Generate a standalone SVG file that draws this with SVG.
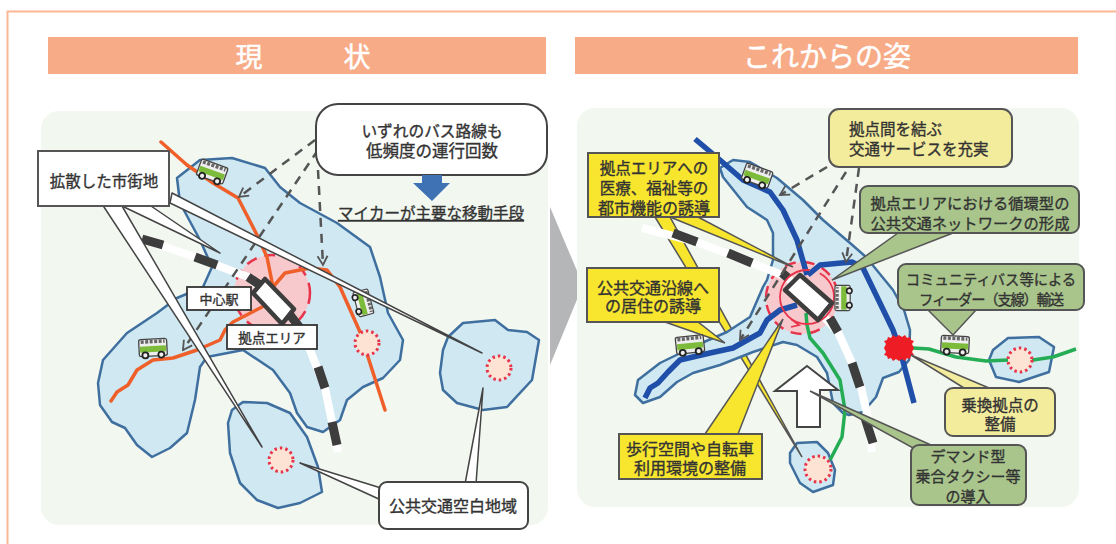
<svg xmlns="http://www.w3.org/2000/svg" width="1116" height="544" viewBox="0 0 1116 544">
<style>
text{font-family:"Noto Sans CJK JP","Noto Sans",sans-serif;fill:#333;stroke:#333;stroke-width:.35px;font-size:15.5px;text-anchor:middle;dominant-baseline:central}
.head{fill:#f7ab87}
text.htext{fill:#fff;stroke:#fff;stroke-width:.5px;font-size:27px}
.panel{fill:#f2f7f0}
.blob{fill:#cfe8f2;stroke:#3f6f9f;stroke-width:2.5;stroke-linejoin:round}
.red{fill:none;stroke:#ef5f2a;stroke-width:3.5;stroke-linejoin:round;stroke-linecap:round}
.blue{fill:none;stroke:#1f4fa8;stroke-width:5.5;stroke-linejoin:round}
.green{fill:none;stroke:#25ad55;stroke-width:3.5;stroke-linejoin:round}
.zone{fill:#f8c9cc;stroke:#e8344a;stroke-width:2.5;stroke-dasharray:11 8}
.dot{fill:#fde3d3;stroke:#e8344a;stroke-width:3;stroke-dasharray:2.5 3}
.railw{fill:none;stroke:#fff;stroke-width:8}
.raild{fill:none;stroke:#3d3d3d;stroke-width:9}
.station{fill:#fff;stroke:#3d3d3d;stroke-width:4.5;stroke-linejoin:round}
.dash{fill:none;stroke:#555;stroke-width:2.5;stroke-dasharray:9 7;marker-end:url(#vee)}
.call{fill:#fff;stroke:#444;stroke-width:1.5;stroke-linejoin:round}
.yel{fill:#f7e52e;stroke:#555;stroke-width:2}
.pale{fill:#f3ec9c;stroke:#555;stroke-width:2}
.sage{fill:#a9c58b;stroke:#555;stroke-width:2}
</style>
<defs>
<marker id="vee" viewBox="0 0 12 12" refX="10" refY="6" markerWidth="12" markerHeight="12" orient="auto" markerUnits="userSpaceOnUse">
<path d="M1 1L10 6L1 11" fill="none" stroke="#555" stroke-width="1.8"/>
</marker>
<g id="bus">
<rect x="-14" y="-9" width="28" height="17" rx="2" fill="#eee" stroke="#444" stroke-width="1.3"/>
<path d="M-12-6.5H12" stroke="#666" stroke-width="3.5" stroke-dasharray="3 1.5"/>
<rect x="-13" y="-2" width="26" height="6" fill="#7dbb3a"/>
<circle cx="-8" cy="7" r="3" fill="#eee" stroke="#222" stroke-width="1.8"/>
<circle cx="8" cy="7" r="3" fill="#eee" stroke="#222" stroke-width="1.8"/>
</g>
</defs>
<rect id="page" width="1116" height="544" fill="#fff"/>
<path id="frame" d="M7.500 544V11.500H1116" fill="none" stroke="#fdb694" stroke-width="2"/>

<g id="header-left"><rect class="head" x="48" y="37" width="498" height="37"/><text class="htext" x="303" y="55">現　　　状</text></g>
<g id="header-right"><rect class="head" x="575" y="37" width="503" height="37"/><text class="htext" x="827" y="55" style="font-size:28px">これからの姿</text></g>
<polygon id="flow-arrow" points="550,207 583,285 550,365" fill="#b5b6b8"/>

<rect id="panel-left" class="panel" x="41" y="111" width="507" height="414" rx="18"/>
<rect id="panel-right" class="panel" x="577" y="108" width="502" height="399" rx="18"/>

<g id="left-map">
<polygon class="blob" points="177,178 200,160 232,158 265,168 280,187 300,203 337,223 370,247 380,277 388,313 403,340 400,360 383,378 363,387 347,400 340,420 323,432 307,427 297,413 290,393 273,370 243,350 207,357 200,367 195,400 187,433 170,448 152,457 137,445 125,428 112,422 100,405 98,383 103,360 127,333 157,313 177,298 203,287 212,267 200,240 180,203"/>
<polygon class="blob" points="232,410 243,402 267,403 290,413 307,437 318,467 322,492 300,503 278,508 257,500 240,483 230,453 228,423"/>
<polygon class="blob" points="448,337 463,323 495,320 508,330 527,332 539,340 532,380 507,407 483,410 457,403 443,390 440,373 443,350"/>
<circle id="hub-zone-left" class="zone" cx="272" cy="293" r="38"/>
<g id="bus-routes-left">
<polyline class="red" points="161,142 187,165 213,183 238,198 257,235 267,257 273,287"/>
<polyline class="red" points="273,287 285,273 310,268 327,270 340,287 360,332 385,410"/>
<polyline class="red" points="262,307 233,322 225,330 220,340 197,350 173,358 153,360 137,370 128,385 117,392 111,401"/>
</g>
<g id="railway-left">
<polyline class="railw" points="142,239 195,257 248,277 290,315 310,350 325,388 332,422 338,452"/>
<path class="raild" d="M142 239L163 245M195 257L217 265M248 277L260 285M290 315L300 328M318 367L325 388M332 422L337 445"/>
</g>
<g id="station-left"><polygon class="station" points="265,279 294,309 282,324 253,293"/></g>
<circle id="blank-left-a" class="dot" cx="367" cy="343" r="12"/>
<circle id="blank-left-b" class="dot" cx="281" cy="460" r="12"/>
<circle id="blank-left-c" class="dot" cx="499" cy="368" r="12"/>
<g id="buses-left">
<use href="#bus" transform="translate(212,172) rotate(20)"/>
<use href="#bus" transform="translate(153,348) rotate(-3)"/>
<use href="#bus" transform="translate(363,303) rotate(75) scale(.9)"/>
</g>
<g id="connectors-left">
<line class="dash" x1="315" y1="140" x2="239" y2="197"/>
<line class="dash" x1="318" y1="150" x2="183" y2="350"/>
<line class="dash" x1="318" y1="170" x2="323" y2="265"/>
<polygon class="call" points="172,193 482,353 170,203"/>
<polygon class="call" points="148,204 220,253 122,206"/>
<polygon class="call" points="102,204 262,447 122,206"/>
<polygon class="call" points="300,463 381,488 381,500"/>
<polygon class="call" points="483,388 465,484 476,484"/>
</g>
<g id="bubble-low-frequency"><rect x="316" y="104" width="231" height="71" rx="22" fill="#fff" stroke="#444" stroke-width="2"/><text><tspan x="432" y="130" style="font-size:15.7px">いずれのバス路線も</tspan><tspan x="432" y="150" style="font-size:16.5px">低頻度の運行回数</tspan></text></g>
<polygon id="down-arrow" points="422,175 442,175 442,183 450,183 432,201 413,183 422,183" fill="#3e72b4"/>
<text id="car-text" x="431" y="212" style="text-decoration:underline">マイカーが主要な移動手段</text>
<g id="label-sprawl"><rect x="38" y="151" width="131" height="55" fill="#fff" stroke="#555" stroke-width="2"/><text x="104" y="180">拡散した市街地</text></g>
<g id="label-station"><rect x="187" y="287" width="64" height="23" fill="#fff" stroke="#333" stroke-width="1.8"/><text x="219" y="298" style="font-size:13px">中心駅</text></g>
<g id="label-hub"><rect x="227" y="325" width="90" height="24" fill="#fff" stroke="#333" stroke-width="1.8"/><text x="272" y="337" style="font-size:13.500px">拠点エリア</text></g>
<g id="label-blank"><rect x="379" y="482" width="149" height="47" rx="8" fill="#fff" stroke="#444" stroke-width="2"/><text x="453" y="505" style="font-size:16px">公共交通空白地域</text></g>
</g>

<g id="right-map">
<polygon class="blob" points="790,453 797,443 817,442 828,453 835,470 833,485 813,492 800,483 790,463"/>
<polygon class="yel" style="stroke-width:1.5" points="655,217 802,457 670,217"/>
<polygon class="blob" points="720,168 733,160 750,162 777,178 803,200 823,220 850,243 866,257 893,290 904,310 910,330 909,360 899,372 883,378 876,397 863,412 849,415 843,413 833,403 827,373 817,357 797,345 783,342 753,352 720,365 693,373 677,382 660,397 643,403 635,395 638,380 660,363 697,345 727,332 750,317 763,287 767,280 773,260 773,233 767,220 747,207 723,177"/>
<polygon class="blob" points="993,350 1008,338 1039,337 1054,347 1049,372 1019,382 996,377 989,360"/>
<circle id="hub-zone-right" class="zone" cx="802" cy="298" r="36"/>
<g id="routes-right">
<polyline class="green" points="806,313 807,325 810,338 823,353 840,380 845,410 842,437 830,460"/>
<polyline class="green" points="913,348 929,349 956,357 986,361 1009,360 1033,360 1053,357 1076,349"/>
<polyline class="blue" points="695,139 720,160 743,180 770,192 783,210 797,240 807,275"/>
<polyline class="blue" points="808,275 820,265 852,262 863,268 893,330 900,350 914,403"/>
<polyline class="blue" points="797,305 780,310 767,320 760,333 733,348 710,353 680,360 668,372 658,383 650,388 645,398"/>
</g>
<g id="railway-right">
<polyline class="railw" points="642,228 697,242 752,263 787,277 838,332 852,363 861,387 868,418 872,452"/>
<path class="raild" d="M673 233L697 242M728 253L752 263M782 273L788 278M830 318L838 332M852 363L860 387M865 418L873 443"/>
</g>
<circle id="loop" cx="807" cy="297" r="27" fill="none" stroke="#e8344a" stroke-width="1.800" stroke-dasharray="130 10 30"/>
<path id="loop-head" d="M791 319L799 325L791 327" fill="none" stroke="#e8344a" stroke-width="1.800"/>
<g id="station-right"><polygon class="station" points="800,275 832,303 818,320 785,290"/></g>
<polygon id="transfer-hub" fill="#ee1c25" points="899,335 902,337 905,335 907,338 910,337 911,340 914,341 912,344 914,348 912,352 914,355 911,356 910,359 907,358 905,361 902,359 899,361 896,359 893,361 891,358 888,359 887,356 884,355 886,352 884,348 886,344 884,341 887,340 888,337 891,338 893,335 896,337"/>
<circle id="blank-right-a" class="dot" cx="818" cy="469" r="13"/>
<circle id="blank-right-b" class="dot" cx="1020" cy="360" r="12"/>
<polygon id="up-arrow" points="807,366 838,390 820,390 820,427 797,427 797,391 775,391" fill="#fff" stroke="#444" stroke-width="2"/>
<g id="connectors-right">
<line class="dash" x1="827" y1="167" x2="780" y2="195"/>
<line class="dash" x1="846" y1="172" x2="740" y2="340"/>
<line class="dash" x1="859" y1="168" x2="846" y2="262"/>
<polygon class="yel" style="stroke-width:1.5" points="698,217 793,267 670,217"/>
<polygon class="yel" style="stroke-width:1.5" points="665,322 725,343 698,322"/>
<polygon class="yel" style="stroke-width:1.5" points="705,434 783,319 738,434"/>
<polygon class="sage" style="stroke-width:1.5" points="898,233 832,280 953,233"/>
<polygon class="pale" style="stroke-width:1.5" points="964,388 911,355 989,388"/>
<polygon class="sage" style="stroke-width:1.5" points="931,445 810,391 913,448"/>
<polygon class="sage" style="stroke-width:1.5" points="928,310 953,335 976,310"/>
</g>
<g id="buses-right">
<use href="#bus" transform="translate(757,176) rotate(20)"/>
<use href="#bus" transform="translate(690,345) rotate(-6)"/>
<use href="#bus" transform="translate(843,298) rotate(-90) scale(.9)"/>
<use href="#bus" transform="translate(955,345) rotate(3)"/>
</g>
<g id="box-a"><rect class="yel" x="588" y="153" width="131" height="64"/><text><tspan x="654" y="167">拠点エリアへの</tspan><tspan x="654" y="187">医療、福祉等の</tspan><tspan x="654" y="207" style="font-size:16px">都市機能の誘導</tspan></text></g>
<g id="box-b"><rect class="yel" x="587" y="268" width="132" height="54"/><text style="font-size:16px"><tspan x="653" y="287">公共交通沿線へ</tspan><tspan x="653" y="305">の居住の誘導</tspan></text></g>
<g id="box-c"><rect class="yel" x="619" y="434" width="143" height="45"/><text style="font-size:16px"><tspan x="690" y="448">歩行空間や自転車</tspan><tspan x="690" y="467">利用環境の整備</tspan></text></g>
<g id="box-d"><rect class="pale" x="829" y="109" width="183" height="58" rx="10"/><text style="text-anchor:start"><tspan x="849" y="128">拠点間を結ぶ</tspan><tspan x="849" y="148">交通サービスを充実</tspan></text></g>
<g id="box-e"><rect class="sage" x="860" y="186" width="219" height="47" rx="8"/><text style="font-size:15.300px"><tspan x="970" y="202">拠点エリアにおける循環型の</tspan><tspan x="970" y="222">公共交通ネットワークの形成</tspan></text></g>
<g id="box-f"><rect class="sage" x="898" y="264" width="186" height="46" rx="8"/><text style="font-size:14.300px"><tspan x="991" y="278">コミュニティバス等による</tspan><tspan x="991" y="298" style="letter-spacing:-1.200px">フィーダー（支線）輸送</tspan></text></g>
<g id="box-g"><rect class="pale" x="945" y="388" width="110" height="48" rx="8"/><text><tspan x="1000" y="404">乗換拠点の</tspan><tspan x="1000" y="423">整備</tspan></text></g>
<g id="box-h"><rect class="sage" x="911" y="445" width="115" height="60" rx="8"/><text style="font-size:15px"><tspan x="968" y="455">デマンド型</tspan><tspan x="968" y="475">乗合タクシー等</tspan><tspan x="968" y="495">の導入</tspan></text></g>
</g>
</svg>
